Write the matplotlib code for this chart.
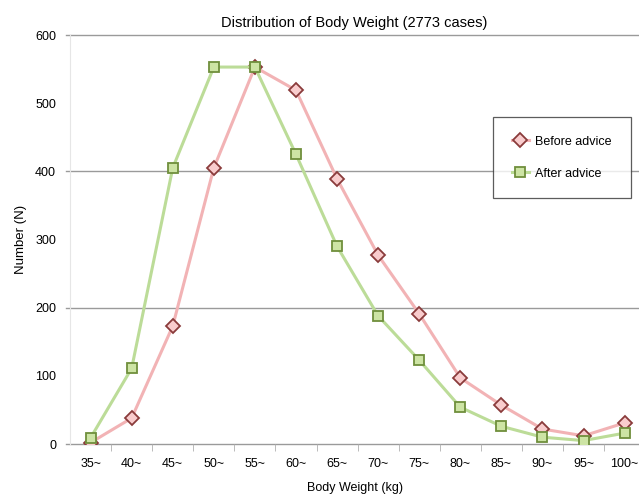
import matplotlib
matplotlib.use("Agg")
import matplotlib.pyplot as plt
import numpy as np

plt.rcParams['font.family'] = ['Liberation Sans', 'DejaVu Sans']

categories = ["35~", "40~", "45~", "50~", "55~", "60~", "65~", "70~",
              "75~", "80~", "85~", "90~", "95~", "100~"]
before = [2, 38, 173, 405, 553, 519, 389, 277, 191, 97, 57, 22, 12, 31]
after = [9, 111, 405, 553, 553, 425, 290, 188, 123, 54, 26, 10, 5, 16]

fig = plt.figure(figsize=(6.39, 4.94), dpi=100)
ax = fig.add_axes([0.1096, 0.1012, 0.8904, 0.8279])

x = np.arange(len(categories))

for yv in [0, 200, 400, 600]:
    ax.axhline(yv, color="#9a9a9a", lw=1.0, zorder=1, clip_on=False,
               xmin=-0.007)

ax.plot(x, before, color="#f2b3b5", lw=2.2, marker="D", markersize=7.5,
        markerfacecolor="#f9cccd", markeredgecolor="#8a3b3b",
        markeredgewidth=1.3, label="Before advice", zorder=3)
ax.plot(x, after, color="#bcdc98", lw=2.2, marker="s", markersize=7.5,
        markerfacecolor="#cde4a4", markeredgecolor="#6f8f3c",
        markeredgewidth=1.3, label="After advice", zorder=3)

ax.set_xlim(-0.5, 13.35)
ax.set_ylim(0, 600)
ax.set_xticks(x)
ax.set_xticklabels(categories)
ax.set_xticks(np.arange(0.5, 13, 1), minor=True)
ax.tick_params(axis="x", which="major", length=0, labelsize=9, pad=10)
ax.tick_params(axis="x", which="minor", length=5, color="#b0b0b0")
ax.set_yticks(range(0, 601, 100))
ax.tick_params(axis="y", length=0, labelsize=9, pad=10)

for s in ["top", "right", "bottom"]:
    ax.spines[s].set_visible(False)
ax.spines["left"].set_color("#e6e6e6")

ax.set_title("Distribution of Body Weight (2773 cases)", fontsize=10.5,
             pad=6, x=0.50)
ax.set_ylabel("Number (N)", fontsize=9.5, labelpad=6)
ax.set_xlabel("Body Weight (kg)", fontsize=9, labelpad=9)

leg = ax.legend(loc="upper left", bbox_to_anchor=(0.743, 0.80),
                fontsize=9, frameon=True, fancybox=False,
                borderpad=1.5, labelspacing=1.6, handlelength=1.4,
                handletextpad=0.5, borderaxespad=0)
leg.get_frame().set_edgecolor("#333333")
leg.get_frame().set_linewidth(0.9)

fig.savefig("out.png", dpi=100)
